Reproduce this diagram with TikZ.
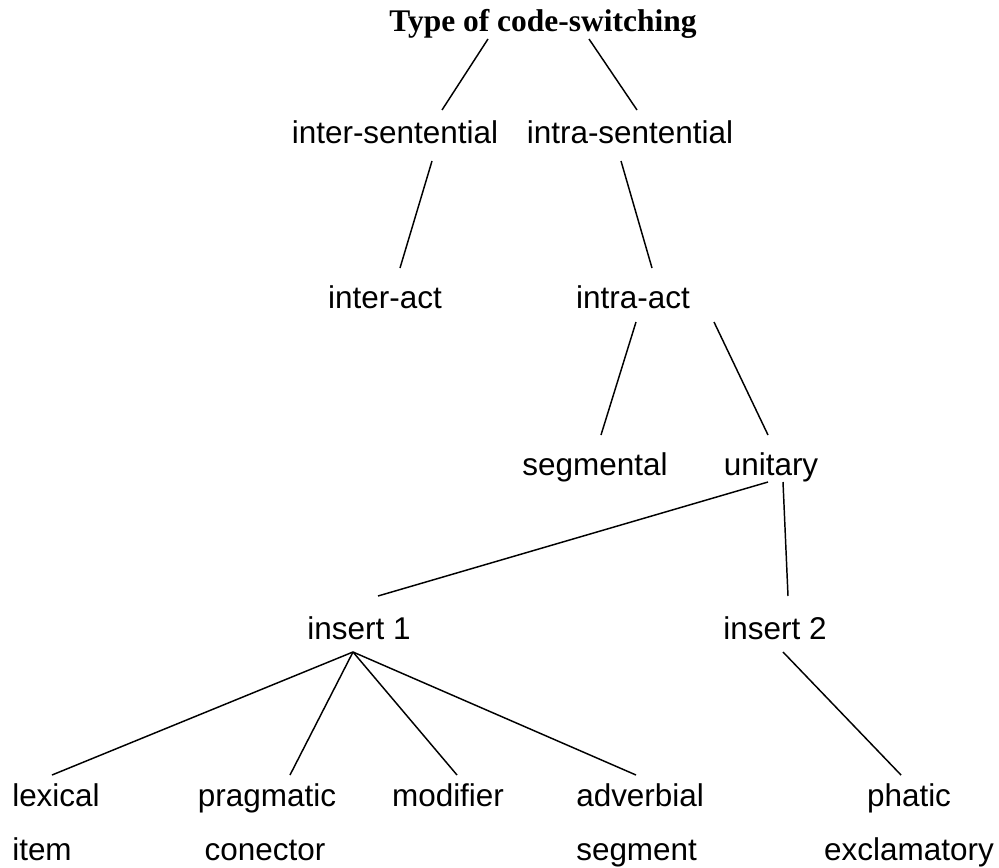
\documentclass[tikz,border=0pt]{standalone}
\usepackage{fontspec}
\setmainfont{Liberation Serif}
\newfontfamily\arialfont{Liberation Sans}
\begin{document}
\begin{tikzpicture}[x=0.75pt,y=-0.75pt,
  lbl/.style={inner sep=0pt,font=\arialfont\fontsize{23.6}{28}\selectfont},
  ttl/.style={inner sep=0pt,font=\bfseries\fontsize{23.6}{28}\selectfont},
  edge/.style={line width=1.1pt,draw=black}]
\useasboundingbox (0,0) rectangle (999,867);
% nodes
\node[ttl,anchor=base] (title) at (543,32) {Type of code-switching};
\node[lbl,anchor=base] (inters) at (395,143) {inter-sentential};
\node[lbl,anchor=base] (intras) at (630,143) {intra-sentential};
\node[lbl,anchor=base] (interact) at (385,308) {inter-act};
\node[lbl,anchor=base] (intraact) at (633,308) {intra-act};
\node[lbl,anchor=base] (segm) at (595,475) {segmental};
\node[lbl,anchor=base] (unit) at (771,475) {unitary};
\node[lbl,anchor=base] (ins1) at (359,639) {insert 1};
\node[lbl,anchor=base] (ins2) at (775,639) {insert 2};
\node[lbl,anchor=base west] (lex) at (12,806) {lexical};
\node[lbl,anchor=base west] (item) at (12,860) {item};
\node[lbl,anchor=base] (prag) at (267,806) {pragmatic};
\node[lbl,anchor=base] (conec) at (265,860) {conector};
\node[lbl,anchor=base] (modif) at (448,806) {modifier};
\node[lbl,anchor=base west] (adverb) at (576,806) {adverbial};
\node[lbl,anchor=base west] (segment) at (576,860) {segment};
\node[lbl,anchor=base] (phatic) at (909,806) {phatic};
\node[lbl,anchor=base] (exclam) at (909,860) {exclamatory};
% connector end points
\coordinate (t1) at (488,39);  \coordinate (t2) at (589,39);
\coordinate (a1) at (442,110); \coordinate (a2) at (637,110);
\coordinate (b1) at (432,161); \coordinate (b2) at (621,161);
\coordinate (c1) at (400,268); \coordinate (c2) at (652,268);
\coordinate (d1) at (636,322); \coordinate (d2) at (714,322);
\coordinate (e1) at (601,435); \coordinate (e2) at (768,435);
\coordinate (f1) at (768,482); \coordinate (f2) at (783,482);
\coordinate (g1) at (378,596); \coordinate (g2) at (788,596);
\coordinate (fan) at (353,652); \coordinate (h2) at (783,652);
\coordinate (k1) at (52,775);  \coordinate (k2) at (290,775);
\coordinate (k3) at (457,775); \coordinate (k4) at (636,775);
\coordinate (k5) at (901,775);
% connectors
\draw[edge] (t1) -- (a1);
\draw[edge] (t2) -- (a2);
\draw[edge] (b1) -- (c1);
\draw[edge] (b2) -- (c2);
\draw[edge] (d1) -- (e1);
\draw[edge] (d2) -- (e2);
\draw[edge] (f1) -- (g1);
\draw[edge] (f2) -- (g2);
\draw[edge] (fan) -- (k1);
\draw[edge] (fan) -- (k2);
\draw[edge] (fan) -- (k3);
\draw[edge] (fan) -- (k4);
\draw[edge] (h2) -- (k5);
\end{tikzpicture}
\end{document}
